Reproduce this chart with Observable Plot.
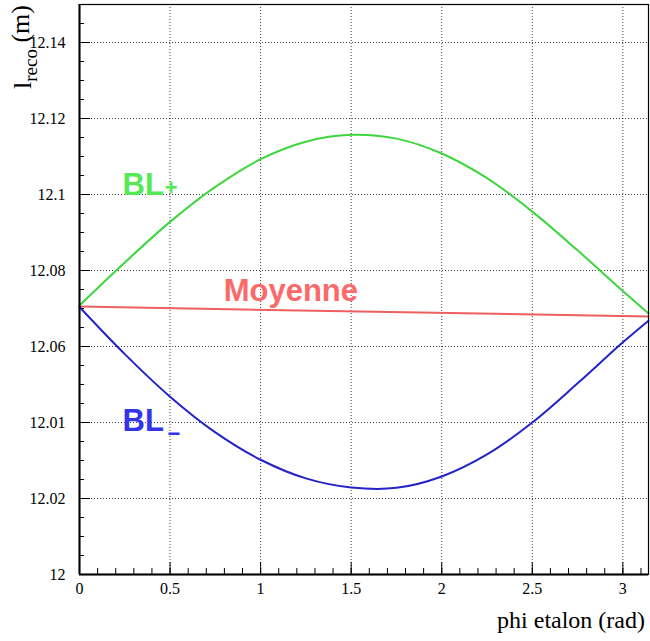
<!DOCTYPE html>
<html><head><meta charset="utf-8">
<script src="https://cdn.jsdelivr.net/npm/d3@7"></script>
<script src="https://cdn.jsdelivr.net/npm/@observablehq/plot@0.6"></script>
<style>body{margin:0;background:#fff} svg{display:block}</style>
</head><body><div id="chart"></div>
<script>
// ---- data ----
const phi      = [0, 0.25, 0.5, 0.75, 1, 1.25, 1.5, 1.75, 2, 2.25, 2.5, 2.75, 3, 3.1416];
const blPlus   = [12.0708, 12.0821, 12.0928, 12.1020, 12.1093, 12.1139, 12.1157, 12.1147, 12.1108, 12.1043, 12.0955, 12.0853, 12.0746, 12.0687];
const blMinus  = [12.0704, 12.0580, 12.0468, 12.0374, 12.0302, 12.0253, 12.0229, 12.0228, 12.0258, 12.0316, 12.0400, 12.0503, 12.0611, 12.0668];
const moyPhi   = [0, 3.1416];
const moyenne  = [12.0705, 12.0679];
const yTicks      = [12, 12.02, 12.04, 12.06, 12.08, 12.1, 12.12, 12.14];
const yTickLabels = ["12", "12.02", "12.01", "12.06", "12.08", "12.1", "12.12", "12.14"];
const xTicks      = [0, 0.5, 1, 1.5, 2, 2.5, 3];
const xTickLabels = ["0", "0.5", "1", "1.5", "2", "2.5", "3"];
const xTitle = "phi etalon (rad)";
const yTitle = ["l", "reco", " (m)"];

// ---- layout ----
const W = 650, H = 641, mL = 79, mR = 2, mT = 4, mB = 67;
const innerW = W - mL - mR, innerH = H - mT - mB;
const yMinor = d3.range(0, 30).map(i => +(12 + i * 0.005).toFixed(3));
const xMinor = d3.range(0, 32).map(i => i / 10);

const plusData = phi.map((p, i) => ({phi: p, v: blPlus[i]}));
const minusData = phi.map((p, i) => ({phi: p, v: blMinus[i]}));
const moyData = moyPhi.map((p, i) => ({phi: p, v: moyenne[i]}));

const green = "#3ed63e", blue = "#2323c8", red = "#ee5f5f";
const grid = {stroke: "#000", strokeOpacity: 0.75, strokeDasharray: "1,2"};
const lbl = {fontFamily: "'Liberation Sans', Arial, sans-serif", fontWeight: "bold"};

const chart = Plot.plot({
  width: W, height: H,
  marginLeft: mL, marginRight: mR, marginTop: mT, marginBottom: mB,
  style: {fontFamily: "'Liberation Serif', 'Times New Roman', serif", fontSize: "16px", background: "#fff"},
  x: {domain: [0, d3.max(phi)]},
  y: {domain: [12, 12.15]},
  marks: [
    Plot.ruleX(xTicks.slice(1), grid),
    Plot.ruleY(yTicks.slice(1), grid),
    Plot.tickY(yTicks, {insetRight: innerW - 11, stroke: "#000"}),
    Plot.tickY(yMinor, {insetRight: innerW - 5, stroke: "#000"}),
    Plot.tickX(xTicks, {insetTop: innerH - 12, stroke: "#000"}),
    Plot.tickX(xMinor, {insetTop: innerH - 6, stroke: "#000"}),
    Plot.line(moyData, {x: "phi", y: "v", stroke: red, strokeWidth: 2}),
    Plot.line(plusData, {x: "phi", y: "v", stroke: green, strokeWidth: 2, curve: "catmull-rom"}),
    Plot.line(minusData, {x: "phi", y: "v", stroke: blue, strokeWidth: 2, curve: "catmull-rom"}),
    Plot.text(["BL"], {x: 0.2376, y: 12.1026, text: d => d, textAnchor: "start", fill: "#55ea55", fontSize: 31, ...lbl}),
    Plot.text(["+"], {x: 0.5055, y: 12.1017, text: d => d, fill: "#55ea55", fontSize: 22, ...lbl}),
    Plot.text(["BL"], {x: 0.2376, y: 12.0405, text: d => d, textAnchor: "start", fill: "#3434ea", fontSize: 31, ...lbl}),
    Plot.text(["\u2212"], {x: 0.522, y: 12.0369, text: d => d, fill: "#3434ea", fontSize: 22, ...lbl}),
    Plot.text(["Moyenne"], {x: 0.796, y: 12.0747, text: d => d, textAnchor: "start", fill: "#fb6a6a", fontSize: 31, ...lbl}),
    Plot.axisY(yTicks, {tickSize: 0, tickPadding: 14, fontSize: 16, label: null,
      tickFormat: d => yTickLabels[yTicks.indexOf(d)]}),
    Plot.axisX(xTicks, {tickSize: 0, tickPadding: 8, fontSize: 16, label: null,
      tickFormat: d => xTickLabels[xTicks.indexOf(d)]}),
    Plot.frame({stroke: "#000", strokeWidth: 1.2}),
    Plot.ruleX([0], {stroke: "#000", strokeWidth: 2}),
    Plot.ruleY([12], {stroke: "#000", strokeWidth: 2})
  ]
});

const svg = d3.select(chart);
svg.append("text")
  .attr("x", W - 5).attr("y", 628)
  .attr("text-anchor", "end")
  .attr("font-family", "'Liberation Serif', 'Times New Roman', serif")
  .attr("font-size", 24).attr("fill", "#000")
  .text(xTitle);
const yt = svg.append("text")
  .attr("transform", "translate(31,5) rotate(-90)")
  .attr("text-anchor", "end")
  .attr("font-family", "'Liberation Serif', 'Times New Roman', serif")
  .attr("font-size", 26).attr("fill", "#000");
yt.append("tspan").text(yTitle[0]);
yt.append("tspan").attr("font-size", 19).attr("dy", "0.33em").text(yTitle[1]);
yt.append("tspan").attr("dy", "-0.33em").text(yTitle[2]);

document.getElementById("chart").appendChild(chart);
</script>
</body></html>
